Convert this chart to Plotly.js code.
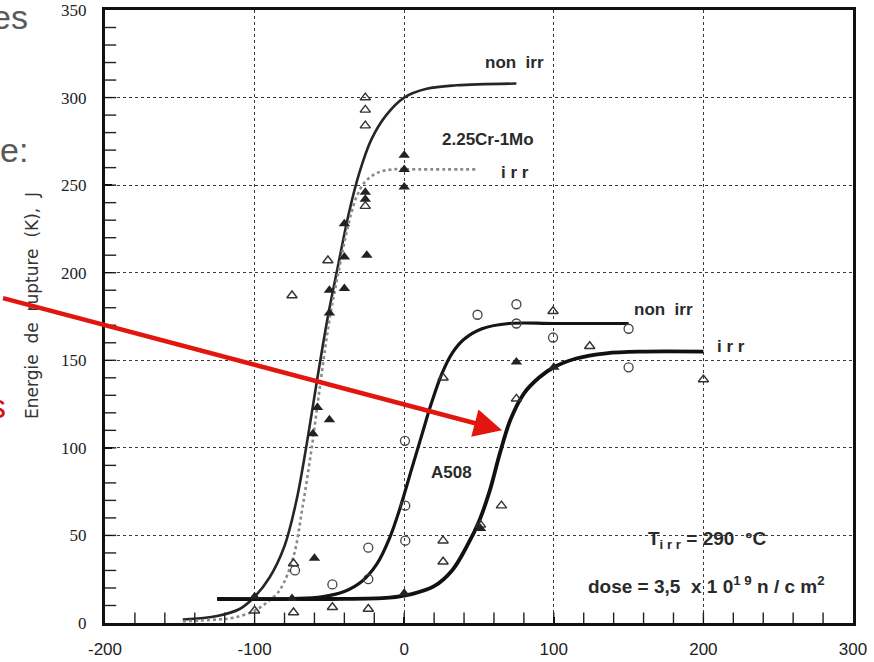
<!DOCTYPE html>
<html>
<head>
<meta charset="utf-8">
<script src="https://cdn.plot.ly/plotly-3.0.1.min.js"></script>
<style>
  html, body { margin: 0; padding: 0; background: #fff; }
  #chart { width: 874px; height: 662px; }
</style>
</head>
<body>
<div id="chart"></div>
<script>
// ---- Data (temperature °C, energy J) ----
// 2.25Cr-1Mo, non irradiated (fitted curve)
const crNonIrrT = [-148, -125, -110, -100, -90, -80, -72, -65, -58, -51, -44, -37, -30, -22, -12, 0, 15, 35, 75];
const crNonIrrK = [2, 4, 8, 15, 26, 44, 70, 103, 140, 175, 205, 234, 257, 276, 290, 300, 305, 307, 308];
// 2.25Cr-1Mo, irradiated (fitted curve)
const crIrrT = [-148, -125, -114, -100, -90, -83, -74, -68, -62, -56, -50, -44, -38, -32, -26, -18, -8, 10, 49];
const crIrrK = [1, 2, 3, 7, 13, 19, 38, 66, 99, 137, 173, 200, 225, 243, 252, 257, 259, 259, 259];
// A508, non irradiated (fitted curve)
const a508NonIrrT = [-125, -100, -75, -55, -40, -28, -18, -10, -3, 5, 12, 18, 25, 32, 40, 52, 70, 100, 150];
const a508NonIrrK = [13.7, 13.7, 14, 15, 18, 24, 34, 48, 65, 88, 108, 125, 142, 154, 162, 168, 171, 171, 171];
// A508, irradiated (fitted curve)
const a508IrrT = [-125, -50, -10, 5, 20, 32, 42, 50, 57, 64, 71, 80, 90, 100, 115, 135, 160, 200];
const a508IrrK = [13.7, 13.7, 14.5, 16.5, 21, 30, 44, 58, 75, 97, 116, 131, 140, 146, 151, 154, 155, 155];

// Measured points
const openTriT = [-26, -26, -26, -26, -51, -75, -74, -100, -74, -48, -24, 26, 26, 51, 65, 75, 99.5, 124, 200, 26];
const openTriK = [300, 293, 284, 238, 207, 187, 34, 7, 6, 9, 8, 47, 35, 56, 67, 128, 178, 158, 139, 140];
const fillTriT = [0, 0, 0, -26, -26, -40, -40, -25, -50, -40, -50, -58, -61, -50, -60, -75, -100, 0, 75, 100, 51];
const fillTriK = [267, 259, 249, 246, 242, 228, 209, 210, 190, 191, 177, 123, 108, 116, 37, 14, 15, 17, 149, 146, 54];
const openCircT = [49, 75, 75, 99.5, 150, 150, 0.5, 0.7, 0.7, -24, -24, -48, -73];
const openCircK = [176, 182, 171, 163, 168, 146, 104, 67, 47, 43, 25, 22, 30];

// Axis ticks
const xTickVals = [-200, -100, 0, 100, 200, 300];
const xTickText = ['-200', '-100', '0', '100', '200', '300'];
const yTickVals = [0, 50, 100, 150, 200, 250, 300, 350];
const yTickText = ['0', '50', '100', '150', '200', '250', '300', '350'];
const xMinorTicks = [-180, -160, -140, -120, -100, -80, -60, -40, -20, 0, 20, 40, 60, 80, 100, 120, 140, 160, 180, 200, 220, 240, 260, 280];
const yMinorTicks = [10, 20, 30, 40, 50, 60, 70, 80, 90, 100, 110, 120, 130, 140, 150, 160, 170, 180, 190, 200, 210, 220, 230, 240, 250, 260, 270, 280, 290, 300, 310, 320, 330, 340];

// Texts
const yTitle = 'Energie  de  rupture  (K),  J';
const curveLabels = ['non  irr', '2.25Cr-1Mo', 'i r r', 'non  irr', 'i r r', 'A508'];
const condLabel1 = 'T<sub>i r r</sub> = 290  °C';
const condLabel2 = 'dose = 3,5  x 1 0<sup>1 9</sup> n / c m<sup>2</sup>';

// ---- Layout geometry (pixels) ----
const W = 874, H = 662;
const M = {l: 105, r: 21, t: 10, b: 39};
const PW = W - M.l - M.r, PH = H - M.t - M.b;
const px2paper = (px) => (px - M.l) / PW;
const py2paper = (py) => (H - M.b - py) / PH;
const X0 = -200, Y0 = 0;   // axis origins (where the inside ticks sit)

const ink = '#1e1e1e';
const traces = [
  {x: crNonIrrT, y: crNonIrrK, mode: 'lines', line: {color: '#262626', width: 2.6, shape: 'spline', smoothing: 1}, hoverinfo: 'skip'},
  {x: crIrrT, y: crIrrK, mode: 'lines', line: {color: '#8a8a8a', width: 2.6, dash: 'dot', shape: 'spline', smoothing: 1}, hoverinfo: 'skip'},
  {x: a508NonIrrT, y: a508NonIrrK, mode: 'lines', line: {color: '#151515', width: 3.2, shape: 'spline', smoothing: 1}, hoverinfo: 'skip'},
  {x: a508IrrT, y: a508IrrK, mode: 'lines', line: {color: '#111', width: 3.8, shape: 'spline', smoothing: 1}, hoverinfo: 'skip'},
  {x: openTriT, y: openTriK, mode: 'markers', marker: {symbol: 'triangle-up-open', size: 9, color: '#333', line: {width: 1.4, color: '#333'}}},
  {x: fillTriT, y: fillTriK, mode: 'markers', marker: {symbol: 'triangle-up', size: 10, color: '#222'}},
  {x: openCircT, y: openCircK, mode: 'markers', marker: {symbol: 'circle-open', size: 9, color: '#444', line: {width: 1.3, color: '#444'}}},
  // minor inside ticks of the frame (half of each mark is clipped by the plot area)
  {x: xMinorTicks, y: xMinorTicks.map(() => Y0), mode: 'markers', cliponaxis: true, hoverinfo: 'skip',
   marker: {symbol: 'line-ns', size: 15, color: '#222', line: {width: 1.4, color: '#222'}}},
  {x: yMinorTicks.map(() => X0), y: yMinorTicks, mode: 'markers', cliponaxis: true, hoverinfo: 'skip',
   marker: {symbol: 'line-ew', size: 16, color: '#222', line: {width: 1.4, color: '#222'}}}
];

const labFont = {family: 'Liberation Sans, Arial, sans-serif', size: 17, color: '#2a2a2a', weight: 'bold'};
const annotations = [
  {x: 74, y: 320, text: curveLabels[0]},
  {x: 56, y: 276, text: curveLabels[1]},
  {x: 74, y: 257.5, text: curveLabels[2]},
  {x: 173, y: 178.8, text: curveLabels[3]},
  {x: 218.4, y: 158, text: curveLabels[4]},
  {x: 31.3, y: 85.7, text: curveLabels[5]},
  {x: 203, y: 47.4, text: condLabel1, font: Object.assign({}, labFont, {size: 19})},
  {x: 202.4, y: 21.7, text: condLabel2, font: Object.assign({}, labFont, {size: 19})}
].map(a => Object.assign({xref: 'x', yref: 'y', showarrow: false, font: labFont, xanchor: 'center', yanchor: 'middle'}, a));

// y-axis title
annotations.push({xref: 'paper', yref: 'paper', x: px2paper(32), y: py2paper(306), text: yTitle, textangle: -90,
  showarrow: false, xanchor: 'center', yanchor: 'middle',
  font: {family: 'DejaVu Sans, sans-serif', size: 17, color: '#333'}});

// slide fragments around the figure
const slideFont = {family: 'Liberation Sans, Arial, sans-serif', size: 34, color: '#595959'};
annotations.push({xref: 'paper', yref: 'paper', x: px2paper(30), y: py2paper(17), text: 'es', showarrow: false, xanchor: 'right', yanchor: 'middle', font: slideFont});
annotations.push({xref: 'paper', yref: 'paper', x: px2paper(30), y: py2paper(150), text: 'e:', showarrow: false, xanchor: 'right', yanchor: 'middle', font: slideFont});
annotations.push({xref: 'paper', yref: 'paper', x: px2paper(8), y: py2paper(406), text: 's', showarrow: false, xanchor: 'right', yanchor: 'middle', font: {family: 'Liberation Sans, Arial, sans-serif', size: 34, color: '#d80f0f'}});

// red arrow
annotations.push({xref: 'x', yref: 'y', x: 65.4, y: 110, ax: -502, ay: -133, axref: 'pixel', ayref: 'pixel',
  text: ' ', showarrow: true, arrowhead: 2, arrowsize: 1.25, arrowwidth: 4.5, arrowcolor: '#e3160f'});

const layout = {
  width: W, height: H,
  margin: M,
  paper_bgcolor: '#fff', plot_bgcolor: '#fff',
  showlegend: false,
  font: {family: 'Liberation Sans, Arial, sans-serif', color: ink},
  xaxis: {
    range: [-200, 300], tickmode: 'array', tickvals: xTickVals, ticktext: xTickText,
    showline: true, linewidth: 3, linecolor: '#111', mirror: true,
    ticks: 'inside', ticklen: 6, tickwidth: 1.5, tickcolor: '#111',
    showgrid: true, gridcolor: '#3a3a3a', gridwidth: 1, griddash: 'dot',
    zeroline: false, ticklabelstandoff: 9,
    tickfont: {family: 'Liberation Sans, Arial, sans-serif', size: 17, color: '#222'}
  },
  yaxis: {
    range: [0, 350], tickmode: 'array', tickvals: yTickVals, ticktext: yTickText,
    showline: true, linewidth: 3, linecolor: '#111', mirror: true,
    ticks: 'inside', ticklen: 7, tickwidth: 1.5, tickcolor: '#111',
    showgrid: true, gridcolor: '#3a3a3a', gridwidth: 1, griddash: 'dot',
    zeroline: false, ticklabelstandoff: 12,
    tickfont: {family: 'Liberation Serif, Times New Roman, serif', size: 17, color: '#222'}
  },
  annotations: annotations
};

Plotly.newPlot('chart', traces, layout, {staticPlot: true, displayModeBar: false});
</script>
</body>
</html>
